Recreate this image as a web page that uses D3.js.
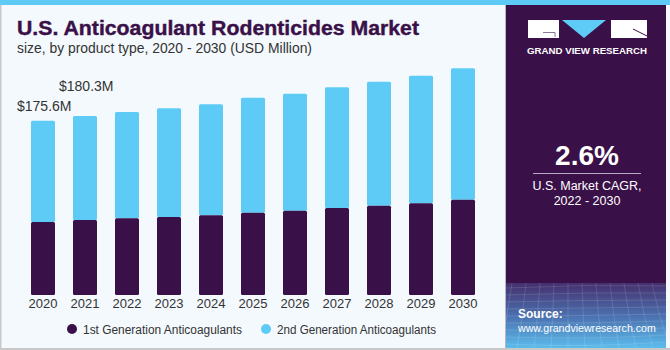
<!DOCTYPE html>
<html>
<head>
<meta charset="utf-8">
<script src="https://cdn.jsdelivr.net/npm/d3@7"></script>
<style>
  body { margin: 0; background: #fff; }
  svg { display: block; font-family: "Liberation Sans", Arial, sans-serif; }
</style>
</head>
<body>
<svg id="chart" width="670" height="350"></svg>
<script>
// chart data
const years = ['2020', '2021', '2022', '2023', '2024', '2025', '2026', '2027', '2028', '2029', '2030'];
const firstGen = [73.5, 75.6, 77.3, 78.6, 80.3, 82.9, 84.9, 87.6, 90.0, 92.4, 96.0];
const secondGen = [102.1, 104.7, 107.1, 109.5, 111.8, 115.9, 117.9, 121.6, 124.9, 128.5, 132.4];
const seriesNames = ['1st Generation Anticoagulants', '2nd Generation Anticoagulants'];
const valueLabels = ['$175.6M', '$180.3M'];
const cagr = '2.6%';

const dark = '#3a1048';
const light = '#5ecbf6';

const svg = d3.select('#chart');

// background + frame
svg.append('rect').attr('width', 670).attr('height', 350).attr('fill', '#f4f9fd');
svg.append('rect').attr('x', 0).attr('y', 0).attr('width', 1.5).attr('height', 350).attr('fill', '#c8c8c8');
svg.append('rect').attr('x', 0).attr('y', 348).attr('width', 670).attr('height', 2).attr('fill', '#c8c8c8');

// right panel
const defs = svg.append('defs');
const grad = defs.append('linearGradient').attr('id', 'srcGrad')
    .attr('x1', 0).attr('y1', 0).attr('x2', 0).attr('y2', 1);
grad.append('stop').attr('offset', '0%').attr('stop-color', '#45306e');
grad.append('stop').attr('offset', '50%').attr('stop-color', '#4b6fae');
grad.append('stop').attr('offset', '100%').attr('stop-color', '#5bbcec');

svg.append('rect').attr('x', 506).attr('y', 0).attr('width', 160).attr('height', 348).attr('fill', dark);
svg.append('rect').attr('x', 505).attr('y', 0).attr('width', 1).attr('height', 348).attr('fill', '#b9b3c4');
svg.append('rect').attr('x', 506).attr('y', 283).attr('width', 160).attr('height', 65).attr('fill', 'url(#srcGrad)');

// faint mesh on source box
const mesh = svg.append('g').attr('stroke', '#ffffff').attr('stroke-opacity', 0.18).attr('fill', 'none').attr('stroke-width', 0.7);
d3.range(0, 9).forEach(i => {
  mesh.append('path').attr('d', `M506,${288 + i * 7} Q586,${284 + i * 8} 666,${286 + i * 7}`);
});
d3.range(0, 12).forEach(i => {
  mesh.append('path').attr('d', `M${512 + i * 14},283 Q${508 + i * 15},315 ${500 + i * 17},348`);
});

// top stripe
svg.append('rect').attr('x', 0).attr('y', 0).attr('width', 670).attr('height', 5).attr('fill', light);

// logo
const logo = svg.append('g');
logo.append('rect').attr('x', 528).attr('y', 20).attr('width', 31).attr('height', 18).attr('fill', '#fff');
logo.append('path').attr('d', 'M543,32.5 H555 V37').attr('stroke', '#8a7a96').attr('stroke-width', 1).attr('fill', 'none');
logo.append('path').attr('d', 'M562,20 L606,20 L584,38 Z').attr('fill', light);
logo.append('rect').attr('x', 611).attr('y', 20).attr('width', 36).attr('height', 18).attr('fill', '#fff');
logo.append('path').attr('d', 'M633,29 L647,36').attr('stroke', dark).attr('stroke-width', 1);
logo.append('text').attr('x', 587).attr('y', 53.5).attr('text-anchor', 'middle')
    .attr('fill', '#fff').attr('font-size', 8.5).attr('font-weight', 'bold')
    .attr('textLength', 120).attr('lengthAdjust', 'spacingAndGlyphs')
    .text('GRAND VIEW RESEARCH');

// CAGR block
svg.append('text').attr('x', 587).attr('y', 165).attr('text-anchor', 'middle')
    .attr('fill', '#fff').attr('font-size', 28).attr('font-weight', 'bold').text(cagr);
svg.append('line').attr('x1', 533).attr('x2', 641).attr('y1', 173.5).attr('y2', 173.5)
    .attr('stroke', '#b7a9c4').attr('stroke-width', 1);
svg.append('text').attr('x', 587).attr('y', 190).attr('text-anchor', 'middle')
    .attr('fill', '#fff').attr('font-size', 12.5).text('U.S. Market CAGR,');
svg.append('text').attr('x', 587).attr('y', 204.5).attr('text-anchor', 'middle')
    .attr('fill', '#fff').attr('font-size', 12.5).text('2022 - 2030');

// source
svg.append('text').attr('x', 518).attr('y', 318).attr('fill', '#fff')
    .attr('font-size', 12).attr('font-weight', 'bold').text('Source:');
svg.append('text').attr('x', 518).attr('y', 332).attr('fill', '#fff')
    .attr('font-size', 10.6)
    .text('www.grandviewresearch.com');

// titles
svg.append('text').attr('x', 17).attr('y', 35).attr('fill', dark)
    .attr('font-size', 20).attr('font-weight', 'bold')
    .attr('stroke', dark).attr('stroke-width', 0.4)
    .attr('textLength', 402).attr('lengthAdjust', 'spacingAndGlyphs')
    .text('U.S. Anticoagulant Rodenticides Market');
svg.append('text').attr('x', 17).attr('y', 52.5).attr('fill', '#333')
    .attr('font-size', 14)
    .attr('textLength', 295).attr('lengthAdjust', 'spacingAndGlyphs')
    .text('size, by product type, 2020 - 2030 (USD Million)');

// scales
const xScale = d3.scaleBand()
    .domain(years)
    .range([10, 496])
    .paddingInner(18 / 42)
    .paddingOuter(0.5);

const yScale = d3.scaleLinear()
    .domain([0, 250])
    .range([295, 295 - 250 * 0.9926]);

const table = years.map((y, i) => ({ year: y, first: firstGen[i], second: secondGen[i] }));
const stack = d3.stack().keys(['first', 'second']);
const stacked = stack(table);
const colors = { first: dark, second: light };

const chart = svg.append('g');
chart.selectAll('g.series')
    .data(stacked.slice().reverse())
  .join('g')
    .attr('class', 'series')
    .attr('fill', d => colors[d.key])
  .selectAll('rect')
    .data(d => d)
  .join('rect')
    .attr('x', d => xScale(d.data.year))
    .attr('y', d => yScale(d[1]))
    .attr('width', xScale.bandwidth())
    .attr('height', d => yScale(d[0]) - yScale(d[1]))
    .attr('rx', 1.5);

// x axis
const xAxis = d3.axisBottom(xScale).tickSize(0).tickPadding(4);
const xAxisG = svg.append('g').attr('transform', 'translate(0,295)').call(xAxis);
xAxisG.select('.domain').remove();
xAxisG.selectAll('text').attr('font-size', 13).attr('fill', '#333')
    .attr('font-family', '"Liberation Sans", Arial, sans-serif');

// value labels on first two bars
valueLabels.forEach((lab, i) => {
  svg.append('text')
      .attr('x', xScale(years[i]) - 14)
      .attr('y', yScale(firstGen[i] + secondGen[i]) - 10 - i * 15)
      .attr('fill', '#333').attr('font-size', 14)
      .text(lab);
});

// legend
const legendX = [72, 266];
seriesNames.forEach((name, i) => {
  const g = svg.append('g').attr('transform', `translate(${legendX[i]},329)`);
  g.append('circle').attr('r', 5).attr('fill', i === 0 ? dark : light);
  g.append('text').attr('x', 11).attr('y', 4.5).attr('font-size', 12.5).attr('fill', '#333')
      .attr('textLength', 159).attr('lengthAdjust', 'spacingAndGlyphs')
      .text(name);
});
</script>
</body>
</html>
